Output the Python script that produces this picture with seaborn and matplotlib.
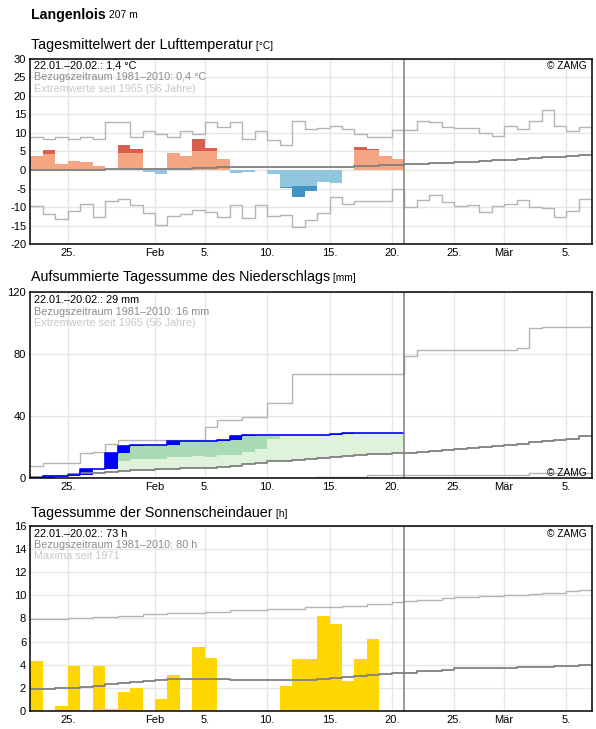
import numpy as np
import pandas as pd
import matplotlib
matplotlib.use("Agg")
import matplotlib.pyplot as plt
import seaborn as sns

# ---------------- data ----------------
tick_pos = [3, 10, 14, 19, 24, 29, 34, 38, 43]
tick_lab = ["25.", "Feb", "5.", "10.", "15.", "20.", "25.", "Mär", "5."]

temp = [3.8, 5.4, 1.6, 2.4, 2.2, 1.1, 0.1, 6.7, 5.7, -0.5, -1.0, 4.6, 3.8, 8.4, 5.9,
        3.0, -0.7, -0.4, 0.0, -1.0, -4.7, -7.2, -5.6, -3.1, -3.4, 0.0, 6.2, 5.7, 3.8, 3.0]
temp_light = [3.8, 4.4, 1.6, 2.4, 2.2, 1.1, 0.1, 4.6, 4.6, -0.5, -1.0, 4.6, 3.8, 5.1, 5.1,
              3.0, -0.7, -0.4, 0.0, -1.0, -4.5, -4.3, -4.3, -3.1, -3.4, 0.0, 5.5, 5.5, 3.8, 3.0]
temp_mean = [0.0, 0.0, 0.0, 0.1, 0.1, 0.1, 0.2, 0.2, 0.2, 0.3, 0.3, 0.4, 0.4, 0.5, 0.6,
             0.7, 0.7, 0.7, 0.7, 0.7, 0.7, 0.7, 0.7, 0.8, 0.8, 0.9, 1.0, 1.0, 1.3, 1.4,
             1.5, 1.7, 1.8, 2.0, 2.1, 2.3, 2.4, 2.6, 2.8, 3.0, 3.2, 3.4, 3.5, 3.8, 4.0]
temp_max = [8.8, 8.5, 8.8, 8.3, 8.8, 8.5, 12.9, 12.9, 8.8, 10.4, 9.7, 8.8, 10.4, 9.7, 12.9,
            11.5, 12.9, 8.3, 10.4, 8.0, 6.7, 13.1, 11.0, 11.2, 12.0, 11.0, 9.7, 8.8, 8.8, 10.7,
            10.7, 13.2, 12.9, 11.6, 11.2, 11.2, 10.0, 9.1, 11.8, 11.0, 13.2, 16.1, 11.8, 10.4, 11.5]
temp_min = [-9.8, -11.9, -13.3, -11.1, -9.2, -12.7, -8.4, -7.9, -9.5, -11.7, -14.9, -12.5, -11.9, -10.8, -11.4,
            -12.7, -9.5, -13.0, -9.5, -12.5, -12.2, -15.4, -13.5, -11.7, -7.3, -9.2, -8.4, -8.4, -8.4, -5.2,
            -10.0, -8.2, -6.8, -8.7, -9.7, -9.4, -11.4, -9.7, -9.1, -8.2, -10.0, -10.3, -12.6, -11.0, -7.9]

prec_cum = [0.0, 1.5, 1.5, 2.3, 5.8, 5.8, 16.3, 20.8, 21.4, 21.4, 21.6, 24.0, 24.0, 24.0, 24.3,
            24.5, 27.3, 27.7, 27.8, 27.8, 27.8, 27.8, 27.8, 27.8, 28.5, 28.9, 28.9, 28.9, 28.9, 28.9]
prec_mean = [0.6, 1.5, 1.7, 2.6, 3.2, 3.3, 4.0, 4.6, 5.1, 5.6, 6.0, 6.2, 6.4, 6.6, 6.8,
             7.3, 8.1, 9.4, 9.8, 10.9, 11.3, 11.9, 12.6, 13.2, 13.6, 14.3, 14.9, 15.4, 15.8, 16.2,
             16.5, 16.9, 17.8, 18.2, 18.6, 19.3, 19.9, 20.5, 21.4, 22.3, 23.1, 24.0, 24.6, 25.5, 27.0]
prec_max = [7.9, 10.1, 10.1, 10.1, 16.1, 16.7, 21.8, 24.4, 24.4, 24.4, 24.4, 24.4, 24.4, 24.4, 32.8,
            37.5, 37.5, 39.4, 39.4, 48.2, 48.2, 66.9, 66.9, 66.9, 66.9, 66.9, 66.9, 66.9, 66.9, 66.9,
            78.4, 82.3, 82.3, 82.3, 82.3, 82.3, 82.3, 82.3, 82.3, 83.6, 96.4, 97.1, 97.1, 97.1, 97.1]
prec_min = [0.0, 0.0, 0.0, 0.0, 0.0, 0.0, 0.0, 0.0, 0.0, 0.0, 0.0, 0.0, 0.0, 0.0, 0.0,
            0.0, 0.0, 0.0, 0.0, 0.0, 0.0, 0.0, 0.0, 0.9, 0.9, 0.9, 0.9, 2.0, 2.0, 2.0,
            2.0, 2.0, 2.0, 2.0, 2.0, 2.0, 2.0, 2.0, 2.0, 2.0, 3.6, 3.6, 3.6, 3.6, 3.6]
# darker green band (days 7..19)
band_start = 7
band_lo = [11.1, 12.2, 12.2, 12.6, 13.7, 13.7, 14.3, 13.9, 15.0, 15.0, 16.7, 18.8, 25.3]
band_hi = [20.8, 21.4, 21.4, 21.6, 24.0, 24.0, 24.0, 24.3, 24.5, 27.3, 27.4, 27.4, 27.4]

sun = [4.3, 0.0, 0.4, 3.9, 0.0, 3.9, 0.2, 1.6, 2.0, 0.0, 1.0, 3.1, 0.0, 5.5, 4.6,
       0.0, 0.0, 0.0, 0.0, 0.0, 2.2, 4.5, 4.5, 8.2, 7.5, 2.6, 4.5, 6.2, 0.0, 0.0]
sun_mean = [1.9, 1.9, 2.0, 2.0, 2.1, 2.2, 2.3, 2.4, 2.5, 2.6, 2.7, 2.74, 2.74, 2.74, 2.74,
            2.74, 2.65, 2.65, 2.65, 2.65, 2.65, 2.65, 2.65, 2.74, 2.85, 2.94, 3.05, 3.14, 3.22, 3.28,
            3.31, 3.43, 3.43, 3.57, 3.68, 3.68, 3.68, 3.68, 3.68, 3.8, 3.8, 3.8, 3.91, 3.91, 4.0]
sun_max = [7.94, 7.94, 7.94, 8.02, 8.02, 8.11, 8.11, 8.23, 8.23, 8.34, 8.34, 8.46, 8.46, 8.46, 8.57,
           8.57, 8.69, 8.69, 8.69, 8.8, 8.8, 8.8, 8.95, 8.95, 8.95, 9.1, 9.1, 9.21, 9.21, 9.38,
           9.53, 9.62, 9.62, 9.76, 9.84, 9.84, 9.9, 9.9, 9.98, 9.98, 10.07, 10.16, 10.16, 10.36, 10.45]

# ---------------- style ----------------
sns.set_theme(style="white")
plt.rcParams["font.family"] = ["Liberation Sans", "DejaVu Sans"]
plt.rcParams["axes.unicode_minus"] = False

C_MEAN = "#808080"
C_EXT = "#b4b4b4"
C_GRID = "#e6e6e6"
W, H = 596, 729

fig = plt.figure(figsize=(W / 100, H / 100), dpi=100)

def axes_px(top, bottom, left=30.3, right=592.0):
    return fig.add_axes([left / W, 1 - bottom / H, (right - left) / W, (bottom - top) / H])

ax1 = axes_px(58.7, 244.3)
ax2 = axes_px(291.7, 478.3)
ax3 = axes_px(525.7, 711.0)

n_obs = len(temp)
n_all = len(temp_mean)
x_obs = np.arange(n_obs) + 0.5

def step(ax, vals, color, lw, z=3):
    vals = np.asarray(vals, dtype=float)
    xs = np.arange(len(vals) + 1)
    ys = np.append(vals, vals[-1])
    sns.lineplot(x=xs, y=ys, drawstyle="steps-post", color=color, lw=lw, ax=ax,
                 legend=False, zorder=z, estimator=None)

def style_axis(ax, ylim, yticks):
    ax.set_xlim(0, 45.05)
    ax.set_ylim(*ylim)
    ax.set_yticks(yticks)
    ax.set_yticklabels([f"{v:g}" for v in yticks])
    ax.set_xticks(tick_pos)
    ax.set_xticklabels(tick_lab)
    ax.set_xlabel("")
    ax.set_ylabel("")
    ax.grid(True, color=C_GRID, lw=1)
    ax.set_axisbelow(True)
    ax.tick_params(length=0, labelsize=8, pad=3, colors="black")
    for s in ax.spines.values():
        s.set_color("black")
        s.set_linewidth(1.1)
        s.set_zorder(6)
    ax.axvline(n_obs, color=C_MEAN, lw=1.1, zorder=5)

# ---------------- panel 1: temperature ----------------
kind = ["warm" if v >= 0 else "cold" for v in temp]
df_t = pd.DataFrame({"x": x_obs, "v": temp, "light": temp_light, "k": kind})
sns.barplot(data=df_t, x="x", y="v", hue="k", palette={"warm": "#d6604d", "cold": "#4393c3"},
            native_scale=True, width=1, dodge=False, saturation=1, errorbar=None,
            legend=False, linewidth=0, edgecolor="none", ax=ax1)
sns.barplot(data=df_t, x="x", y="light", hue="k", palette={"warm": "#f4a582", "cold": "#92c5de"},
            native_scale=True, width=1, dodge=False, saturation=1, errorbar=None,
            legend=False, linewidth=0, edgecolor="none", ax=ax1)
step(ax1, temp_max, C_EXT, 1.0)
step(ax1, temp_min, C_EXT, 1.0)
step(ax1, temp_mean, C_MEAN, 1.3)
style_axis(ax1, (-20, 30), list(range(-20, 31, 5)))

# ---------------- panel 2: precipitation ----------------
pc = np.asarray(prec_cum)
pm = np.asarray(prec_mean[:n_obs])
xe = np.arange(n_obs + 1)
pc_e = np.append(pc, pc[-1])
pm_e = np.append(pm, pm[-1])
prev = np.concatenate([[0.0], pc[:-1]])
prev_e = np.append(prev, pc[-1])
sel = xe >= band_start
ax2.fill_between(xe[sel], pm_e[sel], pc_e[sel], step="post", color="#dff2da", lw=0, zorder=2)
bl = np.asarray(band_lo)
bh = np.asarray(band_hi)
xb = np.arange(band_start, band_start + len(bl) + 1)
ax2.fill_between(xb, np.append(bl, bl[-1]), np.append(bh, bh[-1]), step="post",
                 color="#a8dab5", lw=0, zorder=2.1)
ax2.fill_between(xe, prev_e, pc_e, step="post", color="#0000ff", lw=0, zorder=2.5)
step(ax2, prec_max, C_EXT, 1.0)
step(ax2, prec_min, C_EXT, 1.0)
step(ax2, prec_mean, C_MEAN, 1.3)
step(ax2, prec_cum, "#0000ff", 1.2, z=4)
style_axis(ax2, (0, 120), [0, 40, 80, 120])

# ---------------- panel 3: sunshine ----------------
df_s = pd.DataFrame({"x": x_obs, "v": sun})
sns.barplot(data=df_s, x="x", y="v", color="#ffd700", native_scale=True, width=1,
            saturation=1, errorbar=None, linewidth=0, edgecolor="none", ax=ax3)
step(ax3, sun_max, C_EXT, 1.0)
step(ax3, sun_mean, C_MEAN, 1.3)
style_axis(ax3, (0, 16), list(range(0, 17, 2)))

# ---------------- texts ----------------
renderer = fig.canvas.get_renderer()

def fy(px):
    return 1 - px / H

def two_part(x_px, base_px, big, small, big_size, small_size, weight="normal"):
    t = fig.text(x_px / W, fy(base_px), big, fontsize=big_size, fontweight=weight,
                 va="baseline", ha="left", color="black")
    bb = t.get_window_extent(renderer)
    fig.text(bb.x1 / W, fy(base_px), small, fontsize=small_size, va="baseline",
             ha="left", color="black")

two_part(31, 18.5, "Langenlois", " 207 m", 10.2, 7.5, weight="bold")
two_part(31, 49.3, "Tagesmittelwert der Lufttemperatur", " [°C]", 10.3, 7.3)
two_part(31, 281.0, "Aufsummierte Tagessumme des Niederschlags", " [mm]", 10.3, 7.3)
two_part(31, 516.7, "Tagessumme der Sonnenscheindauer", " [h]", 10.3, 7.3)

def info(lines, ys):
    cols = ["black", "#8c8c8c", "#c8c8c8"]
    for txt, y, c in zip(lines, ys, cols):
        fig.text(34 / W, fy(y), txt, fontsize=7.8, color=c, va="center", ha="left")

info(["22.01.–20.02.: 1,4 °C", "Bezugszeitraum 1981–2010: 0,4 °C", "Extremwerte seit 1965 (56 Jahre)"],
     [65.3, 77.5, 89.5])
info(["22.01.–20.02.: 29 mm", "Bezugszeitraum 1981–2010: 16 mm", "Extremwerte seit 1965 (56 Jahre)"],
     [300.0, 311.5, 322.5])
info(["22.01.–20.02.: 73 h", "Bezugszeitraum 1981–2010: 80 h", "Maxima seit 1971"],
     [534.0, 545.2, 556.2])

for y in (66.0, 472.7, 533.9):
    fig.text(586.7 / W, fy(y), "© ZAMG", fontsize=7.3, color="black", va="center", ha="right")

fig.savefig("out.png", dpi=100, facecolor="white")
